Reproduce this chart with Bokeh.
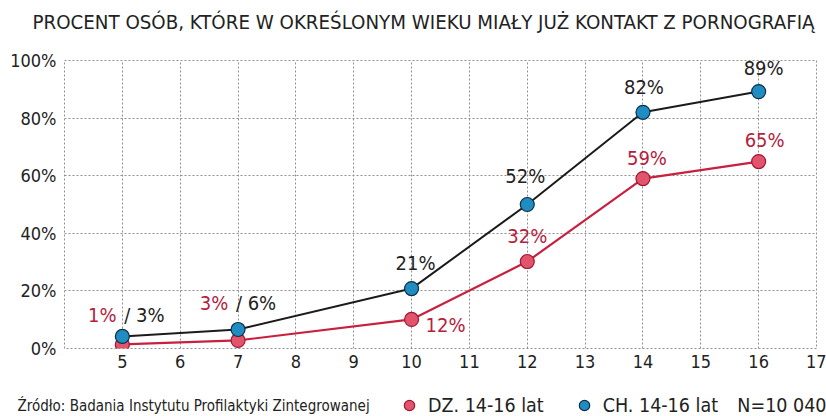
from bokeh.plotting import figure
from bokeh.layouts import column
from bokeh.models import (ColumnDataSource, Label, Legend, LegendItem, FixedTicker,
                          PrintfTickFormatter, Range1d)
from bokeh.embed import file_html
from bokeh.resources import INLINE
from bokeh.core.properties import value

# ---- data ----
ages = [5, 7, 10, 12, 14, 16]
girls = [1.4, 2.8, 10.1, 30.2, 59, 64.9]
boys = [4.2, 6.6, 20.8, 50, 82, 89.2]
girls_labels = ["1%", "3%", "12%", "32%", "59%", "65%"]
boys_labels = ["/ 3%", "/ 6%", "21%", "52%", "82%", "89%"]
x_ticks = list(range(5, 18))
y_ticks = [0, 20, 40, 60, 80, 100]
title_txt = "PROCENT OSÓB, KTÓRE W OKREŚLONYM WIEKU MIAŁY JUŻ KONTAKT Z PORNOGRAFIĄ"
source_txt = "Źródło: Badania Instytutu Profilaktyki Zintegrowanej"
series_names = ["DZ. 14-16 lat", "CH. 14-16 lat"]
n_txt = "N=10 040"

# ---- styles ----
RED_LINE = "#c8203f"
RED_FILL = "#e2536c"
RED_EDGE = "#9e1731"
RED_TXT = "#b3223d"
BLUE_FILL = "#1f8cc2"
BLUE_EDGE = "#0e2f45"
BLACK = "#1b1b1b"
TXT = "#222222"
GRID = "#8f8f8f"
NUM = "DejaVu Sans Condensed"

W = 826
HEAD_H, MAIN_H, FOOT_H = 48, 324, 44


def blank(h):
    f = figure(width=W, height=h, output_backend="svg", toolbar_location=None,
               x_range=Range1d(0, W), y_range=Range1d(0, h),
               x_axis_type=None, y_axis_type=None,
               min_border=0, min_border_left=0, min_border_right=0,
               min_border_top=0, min_border_bottom=0, frame_align=False)
    f.outline_line_color = None
    f.grid.visible = False
    return f


# ---- header ----
head = blank(HEAD_H)
head.add_layout(Label(x=423, y=HEAD_H - 21.5, text=title_txt, text_align="center",
                      text_baseline="middle", text_font=NUM, text_font_size="20.3px",
                      text_color=TXT))

# ---- main chart ----
p = figure(width=W, height=MAIN_H, output_backend="svg", toolbar_location=None,
           x_range=Range1d(4, 17), y_range=Range1d(0, 100),
           min_border_left=64, min_border_right=W - 816, min_border_top=12, min_border_bottom=24,
           background_fill_color="white", border_fill_color="white", frame_align=False)
p.outline_line_color = GRID
p.outline_line_dash = "2 2"
p.outline_line_width = 1

for ax in (p.xaxis[0], p.yaxis[0]):
    ax.axis_line_color = None
    ax.major_tick_line_color = None
    ax.minor_tick_line_color = None
    ax.major_tick_out = 0
    ax.major_tick_in = 0
    ax.minor_tick_out = 0
    ax.minor_tick_in = 0
    ax.major_label_text_font = NUM
    ax.major_label_text_font_size = "18px"
    ax.major_label_text_color = TXT
p.xaxis.ticker = FixedTicker(ticks=x_ticks)
p.yaxis.ticker = FixedTicker(ticks=y_ticks)
p.yaxis.formatter = PrintfTickFormatter(format="%d%%")
p.xaxis.major_label_standoff = 6
p.yaxis.major_label_standoff = 8

p.xgrid.ticker = FixedTicker(ticks=list(range(4, 18)))
p.ygrid.ticker = FixedTicker(ticks=y_ticks)
for g in (p.xgrid[0], p.ygrid[0]):
    g.grid_line_color = GRID
    g.grid_line_dash = "2 2"
    g.grid_line_width = 1

p.line(ages, boys, line_color=BLACK, line_width=2)
p.line(ages, girls, line_color=RED_LINE, line_width=2.2)
p.scatter(ages, girls, size=14, fill_color=RED_FILL, line_color=RED_EDGE, line_width=1.2)
p.scatter(ages, boys, size=14, fill_color=BLUE_FILL, line_color=BLUE_EDGE, line_width=1.2)

# data labels (offsets in screen px)
g_anchor_y = [boys[0], boys[1]] + girls[2:]
g_xo = [-20, -24, 34, 0, 4, 6]
g_yo = [-21, -26, 6, -26, -21, -22]
b_xo = [22, 18, 4, -2, 1, 5]
b_yo = [-21, -26, -26, -29, -25, -24]

src_g = ColumnDataSource(dict(x=ages, y=g_anchor_y, t=girls_labels, xo=g_xo, yo=g_yo))
src_b = ColumnDataSource(dict(x=ages, y=boys, t=boys_labels, xo=b_xo, yo=b_yo))
p.text(x="x", y="y", text="t", x_offset="xo", y_offset="yo", source=src_g,
       text_color=RED_TXT, text_font=value(NUM), text_font_size="20px",
       text_align="center", text_baseline="middle")
p.text(x="x", y="y", text="t", x_offset="xo", y_offset="yo", source=src_b,
       text_color=TXT, text_font=value(NUM), text_font_size="20px",
       text_align="center", text_baseline="middle")

# ---- footer ----
FY = 11
foot = blank(FOOT_H)
foot.add_layout(Label(x=17, y=FY, text=source_txt, text_align="left",
                      text_baseline="middle", text_font=NUM, text_font_size="15px",
                      text_color=TXT))
foot.add_layout(Label(x=826, y=FY, text=n_txt, text_align="right",
                      text_baseline="middle", text_font=NUM, text_font_size="19.5px",
                      text_color=TXT))
# legend swatches: hidden renderers carrying the series styles
lg_r = foot.scatter(ages[:1], girls[:1], size=13, fill_color=RED_FILL, line_color=RED_EDGE,
                    line_width=1.2, visible=False)
lg_b = foot.scatter(ages[:1], boys[:1], size=13, fill_color=BLUE_FILL, line_color=BLUE_EDGE,
                    line_width=1.2, visible=False)
legend = Legend(items=[LegendItem(label=series_names[0], renderers=[lg_r]),
                       LegendItem(label=series_names[1], renderers=[lg_b])],
                orientation="horizontal", location=(396, -2),
                glyph_width=26, glyph_height=26, label_standoff=6, spacing=27,
                padding=0, margin=0, border_line_color=None, background_fill_alpha=0,
                label_text_font=NUM, label_text_font_size="19.5px", label_text_color=TXT,
                label_text_baseline="middle", label_height=26)
foot.add_layout(legend, "center")

layout = column(head, p, foot, spacing=0)
open("out.html", "w").write(file_html(layout, INLINE))
